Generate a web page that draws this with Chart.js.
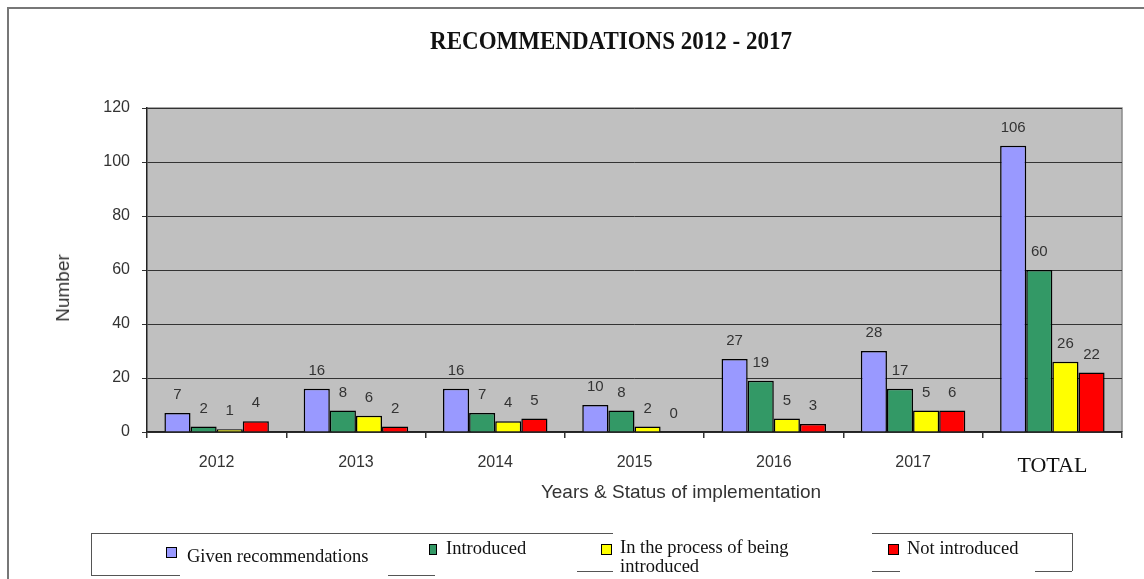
<!DOCTYPE html>
<html><head><meta charset="utf-8">
<script src="https://cdn.jsdelivr.net/npm/chart.js@4"></script>
<style>
body{margin:0;background:#fff;width:1144px;height:579px;overflow:hidden;position:relative;font-family:"Liberation Sans",Arial,sans-serif;color:#333}
.abs{position:absolute;white-space:nowrap}
.serif{font-family:"Liberation Serif","Times New Roman",serif;color:#111}
.sq{position:absolute;width:9px;height:9px;border:1px solid #000}
.ln{position:absolute;height:0;border-top:1.5px solid #555}
.vl{position:absolute;width:0;border-left:1.5px solid #555}
</style></head><body>
<div class="abs" style="left:7px;top:7px;width:1160px;height:600px;border-top:2px solid #777;border-left:2px solid #777"></div>
<canvas id="c" width="1144" height="579" style="position:absolute;left:0;top:0"></canvas>
<div class="abs serif" style="left:0;width:1222px;top:29px;text-align:center;font-weight:bold;font-size:23px;transform:scaleY(1.05)">RECOMMENDATIONS 2012 - 2017</div>
<div class="abs" style="left:0;width:1362px;top:481px;text-align:center;font-size:19px">Years &amp; Status of implementation</div>
<div class="abs" style="left:63px;top:288px;font-size:19px;transform:translate(-50%,-50%) rotate(-90deg)">Number</div>

<div class="ln" style="left:91px;top:533px;width:522px"></div>
<div class="ln" style="left:872px;top:533px;width:200px"></div>
<div class="vl" style="left:91px;top:533px;height:42px"></div>
<div class="vl" style="left:1072px;top:533px;height:38px"></div>
<div class="ln" style="left:91px;top:575px;width:89px"></div>
<div class="ln" style="left:388px;top:575px;width:47px"></div>
<div class="ln" style="left:577px;top:571px;width:36px"></div>
<div class="ln" style="left:872px;top:571px;width:28px"></div>
<div class="ln" style="left:1035px;top:571px;width:37px"></div>

<div class="sq" style="left:166px;top:547px;background:#9999FF"></div>
<div class="abs serif" style="left:187px;top:546px;font-size:18.5px">Given recommendations</div>
<div class="sq" style="left:429px;top:544px;width:6px;background:#339966"></div>
<div class="abs serif" style="left:446px;top:538px;font-size:18.5px">Introduced</div>
<div class="sq" style="left:601px;top:544px;background:#FFFF00"></div>
<div class="abs serif" style="left:620px;top:538px;font-size:18.5px;line-height:19px">In the process of being<br>introduced</div>
<div class="sq" style="left:888px;top:544px;background:#FF0000"></div>
<div class="abs serif" style="left:907px;top:538px;font-size:18.5px">Not introduced</div>

<script>
const categories = ['2012', '2013', '2014', '2015', '2016', '2017', 'TOTAL'];
const seriesNames = ['Given recommendations', 'Introduced', 'In the process of being introduced', 'Not introduced'];
// bar heights as drawn
const givenValues = [7, 16, 16, 10, 27, 30, 106];
const introducedValues = [2, 8, 7, 8, 19, 16, 60];
const inProcessValues = [1, 6, 4, 2, 5, 8, 26];
const notIntroducedValues = [4, 2, 5, 0, 3, 8, 22];
// value labels as printed
const givenLabels = ['7', '16', '16', '10', '27', '28', '106'];
const introducedLabels = ['2', '8', '7', '8', '19', '17', '60'];
const inProcessLabels = ['1', '6', '4', '2', '5', '5', '26'];
const notIntroducedLabels = ['4', '2', '5', '0', '3', '6', '22'];
const yMin = 0, yMax = 120, yStep = 20;
const colors = ['#9999FF', '#339966', '#FFFF00', '#FF0000'];

const plotBg = {
  id: 'plotBg',
  beforeDraw(chart) {
    const {ctx, chartArea: a} = chart;
    ctx.save();
    ctx.fillStyle = '#C0C0C0';
    ctx.fillRect(a.left, a.top, a.right - a.left, a.bottom - a.top);
    ctx.strokeStyle = '#8a8a8a';
    ctx.lineWidth = 1.5;
    ctx.beginPath();
    ctx.moveTo(a.left, a.top); ctx.lineTo(a.right, a.top); ctx.lineTo(a.right, a.bottom);
    ctx.stroke();
    ctx.restore();
  }
};
const valueLabels = {
  id: 'valueLabels',
  afterDatasetsDraw(chart) {
    const ctx = chart.ctx;
    ctx.save();
    ctx.font = '15px "Liberation Sans", Arial, sans-serif';
    ctx.fillStyle = '#333';
    ctx.textAlign = 'center';
    ctx.textBaseline = 'middle';
    chart.data.datasets.forEach((ds, i) => {
      chart.getDatasetMeta(i).data.forEach((el, j) => {
        ctx.fillText(ds.valueLabels[j], el.x, el.y - 18);
      });
    });
    ctx.restore();
  }
};

const valueSets = [givenValues, introducedValues, inProcessValues, notIntroducedValues];
const labelSets = [givenLabels, introducedLabels, inProcessLabels, notIntroducedLabels];

new Chart(document.getElementById('c'), {
  type: 'bar',
  data: {
    labels: categories,
    datasets: seriesNames.map((n, i) => ({
      label: n,
      data: valueSets[i],
      valueLabels: labelSets[i],
      backgroundColor: colors[i],
      borderColor: '#000',
      borderWidth: 1.5,
      barPercentage: 1,
      categoryPercentage: 0.75
    }))
  },
  options: {
    responsive: false,
    animation: false,
    layout: {padding: {left: 0, top: 108, right: 22, bottom: 0}},
    plugins: {legend: {display: false}, title: {display: false}, tooltip: {enabled: false}},
    scales: {
      x: {
        afterFit(s) { s.height = 147; },
        grid: {drawOnChartArea: false, offset: true, tickLength: 6, tickColor: '#333', lineWidth: 1.5},
        border: {color: '#222', width: 1.5},
        ticks: {
          color: (c) => c.index === 6 ? '#111' : '#333',
          padding: 15,
          font: (c) => c.index === 6
            ? {family: '"Liberation Serif", "Times New Roman", serif', size: 22}
            : {family: '"Liberation Sans", Arial, sans-serif', size: 16}
        }
      },
      y: {
        min: yMin, max: yMax,
        afterFit(s) { s.width = 147; },
        grid: {color: '#333', lineWidth: 1, tickLength: 5, tickColor: '#333'},
        border: {color: '#222', width: 1.5},
        ticks: {stepSize: yStep, color: '#333', padding: 12,
          font: {family: '"Liberation Sans", Arial, sans-serif', size: 16}}
      }
    }
  },
  plugins: [plotBg, valueLabels]
});
</script>
</body></html>
